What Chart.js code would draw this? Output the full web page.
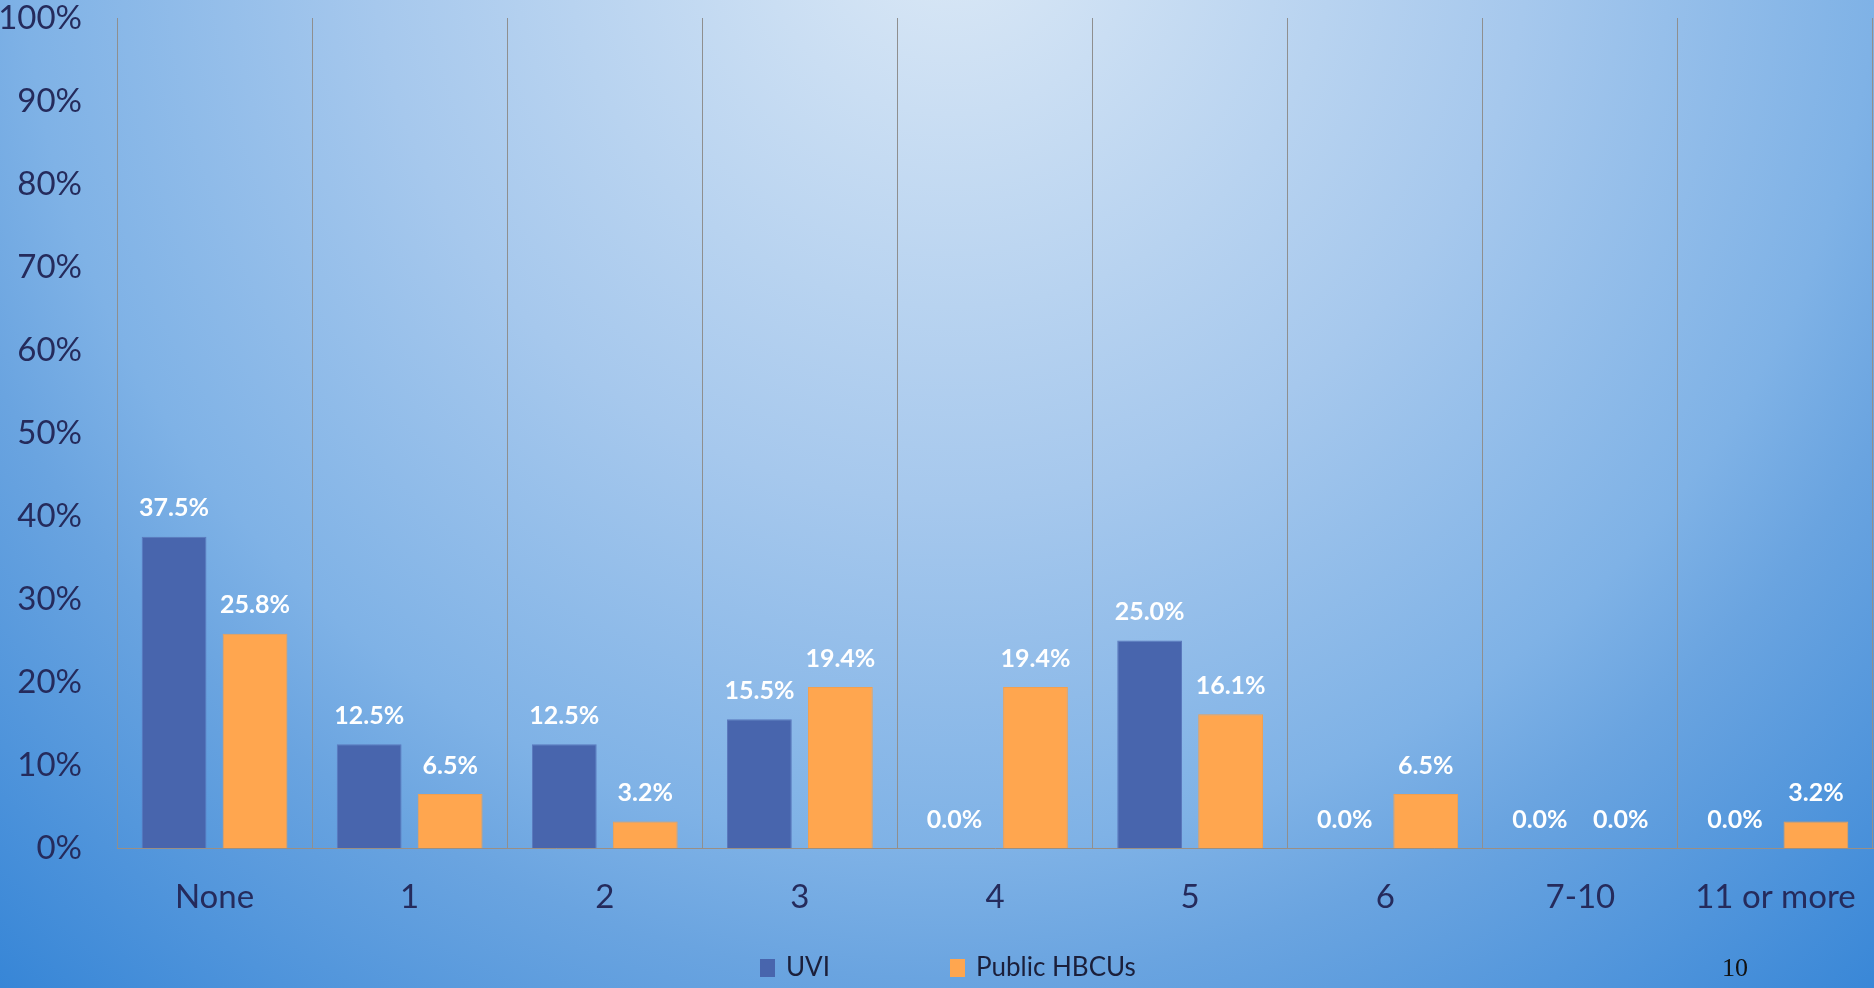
<!DOCTYPE html>
<html>
<head>
<meta charset="utf-8">
<script src="https://cdn.jsdelivr.net/npm/chart.js@4.4.1/dist/chart.umd.min.js"></script>
<style>
  html, body { margin: 0; padding: 0; }
  body {
    width: 1874px; height: 988px; overflow: hidden; position: relative;
    background: radial-gradient(circle 1450px at 950px -80px, #dce9f6 0%, #a6c8ed 40%, #7fb2e6 64%, #6aa4e0 73%, #3484d6 100%);
  }
  #chart { position: absolute; left: 0; top: 0; }
  #pageNo {
    position: absolute; left: 1722px; top: 953px;
    font: 26px "Liberation Serif", serif; color: #111;
  }
</style>
</head>
<body>
<canvas id="chart" width="1874" height="988"></canvas>
<div id="pageNo">10</div>
<script>
const categories = ['None', '1', '2', '3', '4', '5', '6', '7-10', '11 or more'];
const uviValues = [37.5, 12.5, 12.5, 15.5, 0.0, 25.0, 0.0, 0.0, 0.0];
const hbcuValues = [25.8, 6.5, 3.2, 19.4, 19.4, 16.1, 6.5, 0.0, 3.2];
const seriesNames = ['UVI', 'Public HBCUs'];

const axisText = '#252b5c';
const fontFamily = 'Lato, "Open Sans", sans-serif';

// value labels above each bar
const barLabels = {
  id: 'barLabels',
  afterDatasetsDraw(chart) {
    const ctx = chart.ctx;
    ctx.save();
    ctx.font = 'bold 25px ' + fontFamily;
    ctx.fillStyle = '#ffffff';
    ctx.textAlign = 'center';
    ctx.textBaseline = 'bottom';
    chart.data.datasets.forEach((ds, i) => {
      chart.getDatasetMeta(i).data.forEach((bar, j) => {
        ctx.fillText(ds.data[j].toFixed(1) + '%', bar.x, bar.y - 16);
      });
    });
    ctx.restore();
  }
};

// legend row under the axis
const bottomLegend = {
  id: 'bottomLegend',
  afterDraw(chart) {
    const ctx = chart.ctx;
    ctx.save();
    ctx.font = '26px ' + fontFamily;
    ctx.textBaseline = 'middle';
    let x = 760;
    const y = 968;
    chart.data.datasets.forEach(ds => {
      ctx.fillStyle = ds.backgroundColor;
      ctx.fillRect(x, y - 9, 15, 18);
      ctx.fillStyle = '#1b1f3a';
      ctx.fillText(ds.label, x + 26, y);
      x += 26 + ctx.measureText(ds.label).width + 120;
    });
    ctx.restore();
  }
};

new Chart(document.getElementById('chart'), {
  type: 'bar',
  data: {
    labels: categories,
    datasets: [
      {
        label: seriesNames[0],
        data: uviValues,
        backgroundColor: '#4865ad',
        borderColor: '#5b79bd',
        borderWidth: 1,
        categoryPercentage: 0.83,
        barPercentage: 0.8
      },
      {
        label: seriesNames[1],
        data: hbcuValues,
        backgroundColor: '#ffa64f',
        borderColor: '#f2a050',
        borderWidth: 1,
        categoryPercentage: 0.83,
        barPercentage: 0.8
      }
    ]
  },
  options: {
    responsive: false,
    animation: false,
    devicePixelRatio: 1,
    layout: { padding: { top: 18, right: 1, left: 0, bottom: 0 } },
    plugins: {
      legend: { display: false },
      tooltip: { enabled: false }
    },
    scales: {
      x: {
        afterFit: s => {
          s.height = 140;
          s.paddingLeft = 0;
          s.paddingRight = 0;
        },
        grid: {
          offset: true,
          color: '#8f8f8f',
          lineWidth: 1,
          drawTicks: false
        },
        border: { color: '#9a8f84', width: 1 },
        ticks: {
          color: axisText,
          font: { family: fontFamily, size: 33 },
          padding: 30,
          maxRotation: 0
        }
      },
      y: {
        min: 0,
        max: 100,
        afterFit: s => {
          s.width = 117;
          s.paddingTop = 0;
          s.paddingBottom = 0;
        },
        grid: { display: false, drawTicks: false },
        border: { display: false },
        ticks: {
          stepSize: 10,
          color: axisText,
          font: { family: fontFamily, size: 33 },
          padding: 35,
          callback: v => v + '%'
        }
      }
    }
  },
  plugins: [barLabels, bottomLegend]
});
</script>
</body>
</html>
